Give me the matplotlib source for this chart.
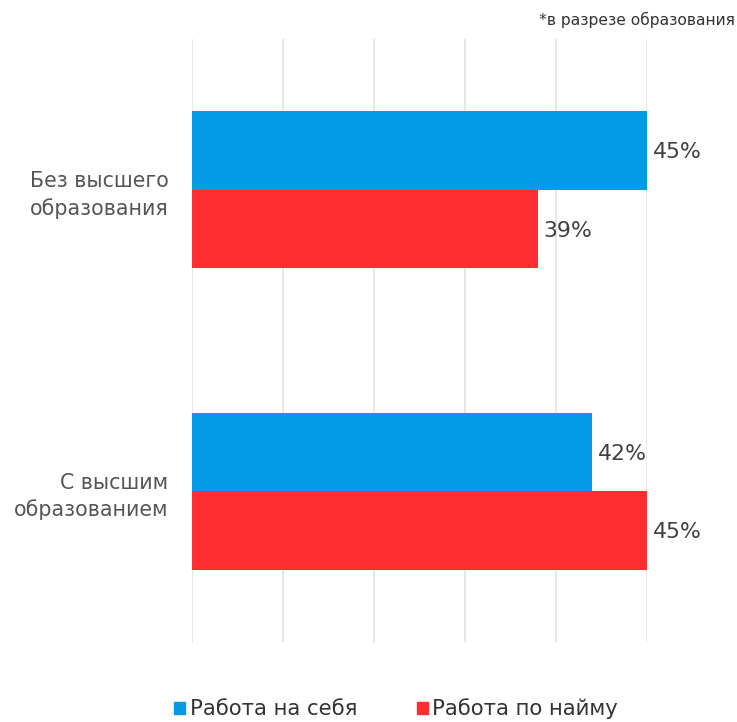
import matplotlib.pyplot as plt
from matplotlib.patches import Patch

# ==============================
# DATA
# ==============================
categories = ["Без высшего\nобразования", "С высшим\nобразованием"]
series_names = ["Работа на себя", "Работа по найму"]
self_employed = [45, 42]
hired = [39, 45]
colors = ["#039BE5", "#FF2D32"]

plt.rcParams['font.family'] = ['DejaVu Sans']

fig = plt.figure(figsize=(7.37, 7.22), dpi=100)
ax = fig.add_axes([192 / 737, 1 - 642 / 722, 455 / 737, 603 / 722])

h = 0.26
ypos = list(range(len(categories)))
ax.barh([y - h / 2 for y in ypos], self_employed, height=h, left=0, color=colors[0], zorder=2)
ax.barh([y + h / 2 for y in ypos], hired, height=h, left=0, color=colors[1], zorder=2)

for y, v in zip(ypos, self_employed):
    ax.text(v + 0.3, y - h / 2 + 0.006, f"{v}%", va='center', ha='left', fontsize=15.8, color='#404040')
for y, v in zip(ypos, hired):
    ax.text(v + 0.3, y + h / 2 + 0.006, f"{v}%", va='center', ha='left', fontsize=15.8, color='#404040')

ax.set_xlim(20, 45)
ax.set_ylim(1.5, -0.5)
ax.set_xticks([20, 25, 30, 35, 40, 45])
ax.set_xticklabels([])
ax.tick_params(length=0)
ax.set_yticks(ypos)
ax.set_yticklabels(categories, fontsize=14.8, color='#555555', linespacing=1.4)
ax.tick_params(axis='y', pad=17)
ax.grid(axis='x', color='#e3e3e3', linewidth=1.2, zorder=0)
for s in ax.spines.values():
    s.set_visible(False)

fig.text(735 / 737, 1 - 20 / 722, "*в разрезе образования", ha='right', va='center',
         fontsize=11.2, color='#333333')

handles = [Patch(color=c) for c in colors]
fig.legend(handles, series_names, loc='center', bbox_to_anchor=(396 / 737, 1 - 709 / 722),
           ncol=2, frameon=False, fontsize=15.3, handlelength=0.52, handleheight=0.52,
           handletextpad=0.2, columnspacing=2.8, labelcolor='#333333')

plt.savefig("out.png", dpi=100)
